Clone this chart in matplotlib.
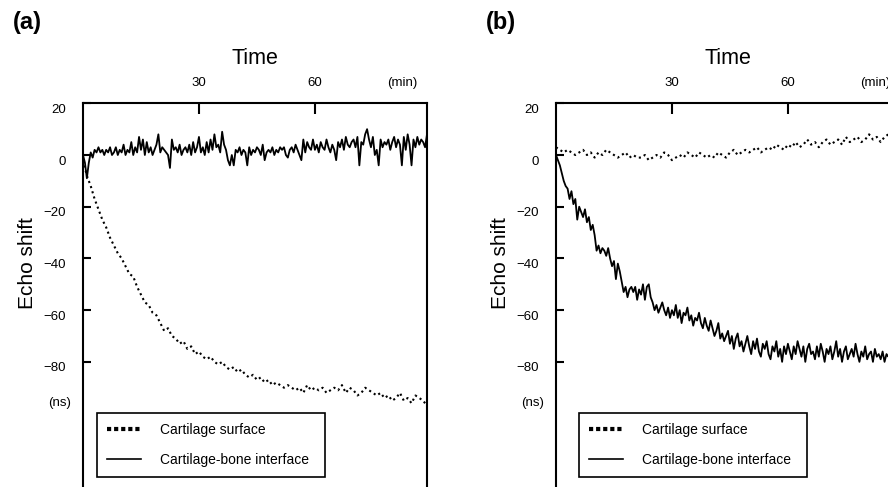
import numpy as np
import matplotlib
matplotlib.use('Agg')
import matplotlib.pyplot as plt
from matplotlib.lines import Line2D
from matplotlib.transforms import ScaledTranslation

plt.rcParams['font.family'] = ['Liberation Sans', 'DejaVu Sans']

# sampling steps (min)
step_solid = 0.5
step_dot = 1.0

# (a) cartilage-bone interface, every 0.5 min (ns)
a_interface = [
    0, -3, -9, -3, 1, -1, 2, 1, 3, 1, 2, 0, 2, 1, 3, 0, 1, 3, 0, 2,
    1, 4, 0, 2, 1, 5, 0, 3, 1, 7, 2, 6, 0, 5, 1, 3, 0, 2, 4, 8,
    1, 3, 2, 1, 0, -5, 6, 2, 3, 1, 4, 0, 2, 3, 1, 4, 0, 5, 1, 3,
    7, 1, 3, 0, 5, 1, 6, 2, 8, 3, 4, 1, 9, 4, 2, -2, -4, 0, -4, 2,
    1, 3, 0, 2, 1, -4, 3, 0, 2, 1, 3, 2, 0, 4, -2, 1, 2, 1, 3, 0,
    2, 1, 3, 2, 3, 0, -1, 2, 3, 1, 4, 2, 0, -2, 6, 1, 5, 3, 2, 6,
    2, 4, 1, 5, 3, 2, 6, 3, 1, 4, 2, -2, 5, 3, 6, 2, 7, 4, 3, 5,
    6, 3, 7, -4, 5, 4, 8, 10, 6, 3, 7, 0, 2, -4, 6, 3, 5, 4, 6, 2,
    5, 7, 3, 6, 4, -4, 7, 2, 8, 4, -4, 6, 3, 7, 4, 6, 5, 3, 8,
]

# (a) cartilage surface, every 1 min (ns)
a_surface = [
    -2, -8, -12, -17, -21, -25, -28, -32, -35, -38,
    -40, -43, -46, -47, -51, -54, -57, -58, -61, -62,
    -65, -68, -67, -70, -71, -73, -72, -75, -74, -77,
    -76, -78, -79, -78, -80, -81, -80, -82, -83, -82,
    -84, -83, -85, -86, -85, -87, -86, -88, -87, -89,
    -88, -89, -90, -89, -90, -91, -90, -92, -89, -91,
    -90, -91, -90, -92, -91, -90, -91, -89, -92, -90,
    -91, -93, -92, -90, -91, -92, -93, -92, -94, -93,
    -95, -94, -92, -95, -94, -96, -93, -94, -95, -97,
]

# (b) cartilage surface, every 1 min (ns)
b_surface = [
    3, 2, 1, 2, 1, 0, 1, 2, 0, 1,
    -1, 1, 0, 2, 1, 0, -1, 0, 1, -1,
    0, -1, -1, 0, -2, -1, 0, -1, 1, 0,
    -2, -1, 0, -1, 1, 0, -1, 1, 0, -1,
    0, -1, 1, 0, -1, 1, 2, 0, 1, 2,
    1, 2, 3, 1, 2, 3, 2, 4, 3, 2,
    4, 3, 5, 3, 4, 6, 4, 5, 3, 5,
    6, 4, 5, 6, 4, 7, 5, 6, 7, 5,
    6, 8, 6, 7, 5, 7, 8, 6, 7, 8,
]

# (b) cartilage-bone interface, every 0.5 min (ns)
b_interface = [
    0, -2, -4, -7, -10, -12, -13, -17, -14, -19, -17, -25, -20, -22, -24, -21, -26, -24, -29, -27,
    -31, -37, -35, -38, -36, -37, -39, -36, -40, -43, -41, -48, -42, -45, -49, -53, -51, -55, -52, -51,
    -53, -51, -56, -52, -54, -50, -56, -51, -50, -55, -57, -60, -58, -61, -59, -57, -60, -62, -59, -63,
    -60, -62, -58, -63, -60, -65, -61, -62, -59, -64, -62, -66, -63, -64, -61, -65, -67, -63, -66, -68,
    -64, -67, -70, -68, -65, -71, -69, -72, -70, -68, -73, -70, -75, -71, -69, -74, -72, -76, -73, -70,
    -74, -77, -72, -75, -71, -76, -78, -73, -75, -72, -77, -79, -74, -76, -72, -78, -75, -80, -74, -77,
    -73, -76, -79, -74, -77, -72, -75, -78, -74, -80, -75, -73, -77, -76, -79, -74, -78, -73, -76, -80,
    -75, -77, -74, -79, -76, -72, -78, -75, -80, -76, -74, -79, -77, -75, -78, -73, -77, -80, -76, -78,
    -74, -79, -77, -76, -80, -75, -78, -77, -79, -76, -80, -77, -78, -76, -79, -77, -80, -78, -77,
]

x_ticks = [30, 60]
y_ticks = [20, 0, -20, -40, -60, -80]
legend_labels = ['Cartilage surface', 'Cartilage-bone interface']

W, H = 888, 487
fig = plt.figure(figsize=(W / 100, H / 100), dpi=100)


def panel(left_px, surface, interface, tag, legend_x):
    # axes runs off the bottom (and for (b) the right) edge, as in the original crop
    ax = fig.add_axes([left_px / W, 0, 344 / W, (H - 103.3) / H])
    t_s = np.arange(len(surface)) * step_dot
    t_i = np.arange(len(interface)) * step_solid
    ax.plot(t_s, surface, color='black', lw=1.5, ls=(0, (1, 1.6)))
    ax.plot(t_i, interface, color='black', lw=1.3)
    ax.set_xlim(0, 89)
    ax.set_ylim(-128.4, 20)

    for s in ('left', 'right', 'top'):
        ax.spines[s].set_linewidth(1.5)
    ax.spines['bottom'].set_visible(False)

    ax.xaxis.tick_top()
    ax.set_xticks(x_ticks)
    ax.tick_params(axis='x', direction='in', length=8, width=1.5, pad=10, labelsize=9.5)
    ax.set_yticks(y_ticks)
    ax.tick_params(axis='y', direction='in', length=6, width=1.5, pad=12, labelsize=9.5,
                   right=False)
    off = ScaledTranslation(0, -0.05, fig.dpi_scale_trans)
    for lab in ax.get_yticklabels():
        lab.set_transform(lab.get_transform() + off)

    ax.text(-0.035, -96, '(ns)', transform=ax.get_yaxis_transform(), ha='right',
            va='center', fontsize=9.5)
    ax.text(0.927, 1.0, '(min)', ha='center', va='bottom', fontsize=9.5,
            transform=ax.transAxes + ScaledTranslation(0, 0.14, fig.dpi_scale_trans))

    ax.set_title('Time', fontsize=15.5, pad=28)
    ax.set_ylabel('Echo shift', fontsize=15)
    ax.yaxis.set_label_coords(-0.135, 0.584)

    fig.text((left_px - 70) / W, 1 - 22 / H, tag, fontsize=17, fontweight='bold',
             ha='left', va='center')

    handles = [Line2D([], [], color='black', lw=3, ls=(0, (1, 0.7))),
               Line2D([], [], color='black', lw=1.2)]
    leg = ax.legend(handles, legend_labels, loc='upper left',
                    bbox_to_anchor=(legend_x, 0.194, 0.663, 0), mode='expand',
                    fontsize=10, frameon=True, fancybox=False, framealpha=1,
                    edgecolor='black', handlelength=2.45, handletextpad=1.3,
                    labelspacing=1.15, borderpad=0.75, borderaxespad=0)
    leg.get_frame().set_linewidth(1.2)
    return ax


panel(83, a_surface, a_interface, '(a)', 0.0407)
panel(556, b_surface, b_interface, '(b)', 0.0669)

fig.savefig('out.png', dpi=100)
